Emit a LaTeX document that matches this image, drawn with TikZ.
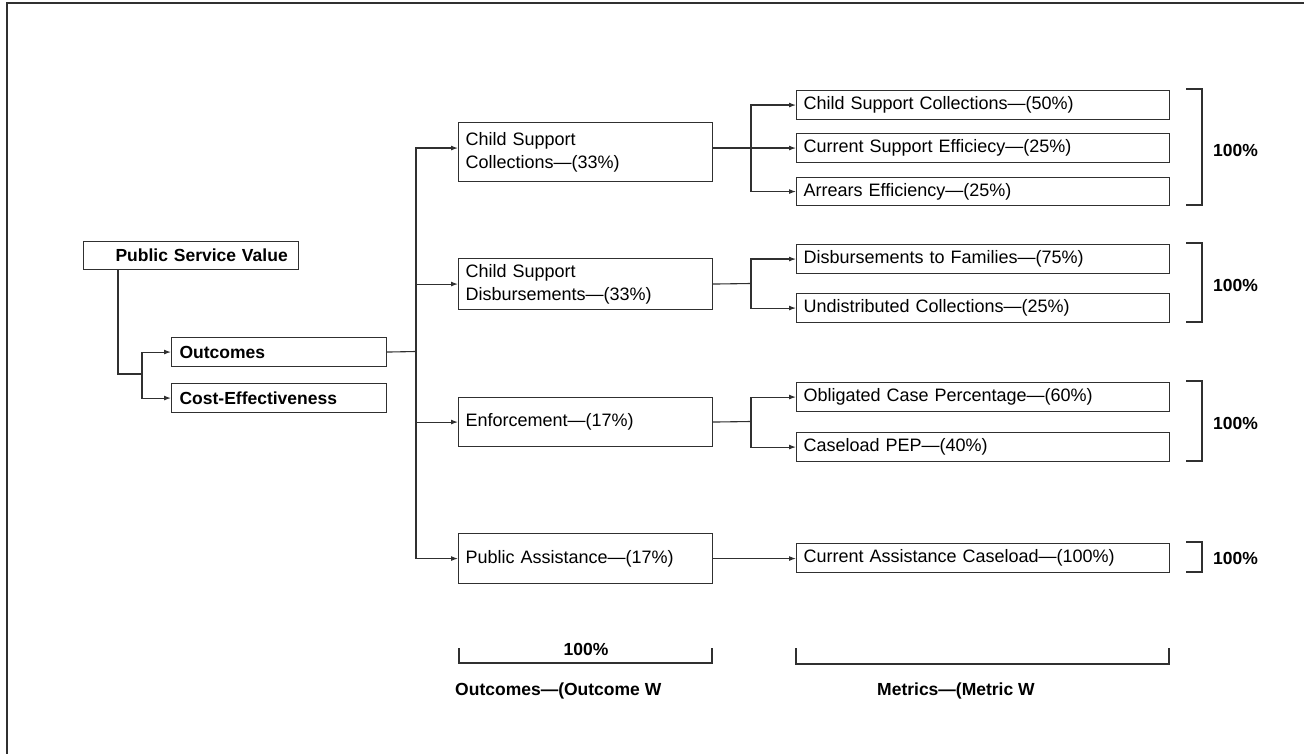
\documentclass[tikz,border=0pt]{standalone}
\usepackage{fontspec}
\setmainfont{Liberation Sans}
\usetikzlibrary{arrows.meta}
\definecolor{lc}{HTML}{303030}
\newcommand{\fsr}{\fontsize{18}{23}\selectfont}
\newcommand{\fsb}{\fontsize{17.5}{22}\selectfont\bfseries}
\tikzset{
  ln/.style={draw=lc, line width=1.1pt},
  ar/.style={ln, -{Latex[length=7pt,width=5pt]}},
  bx/.style={ln, anchor=north west, inner xsep=7pt, inner ysep=0pt, align=left, font=\fsr, text=black},
  lvl/.style={bx, text width=240pt},
  met/.style={bx, text width=359pt, minimum height=29pt},
  lbl/.style={font=\fsb, text=black, inner sep=0pt},
}
\begin{document}
\begin{tikzpicture}[x=1pt,y=-1pt]
\useasboundingbox (0,0) rectangle (1304,754);
\fill[white] (0,0) rectangle (1304,754);
\draw[lc, line width=1.6pt] (7,754) -- (7,3) -- (1304,3);

% left boxes
\node[bx, text width=201pt, minimum height=28pt, font=\fsb] (psv) at (83,241) {\hspace*{25pt}Public Service Value};
\node[bx, inner xsep=8pt, text width=199pt, minimum height=29pt, font=\fsb] (outc) at (171,337) {Outcomes};
\node[bx, inner xsep=8pt, text width=199pt, minimum height=29pt, font=\fsb] (cost) at (171,383) {Cost-Effectiveness};

% level 2
\node[lvl, minimum height=59pt] (csc) at (458,122) {Child Support\\Collections---(33\%)};
\node[lvl, minimum height=51pt] (csd) at (458,258) {Child Support\\Disbursements---(33\%)};
\node[lvl, minimum height=49pt] (enf) at (458,397) {Enforcement---(17\%)};
\node[lvl, minimum height=50pt] (pa) at (458,533) {Public Assistance---(17\%)};

% metrics
\node[met] (m1) at (796,90) {Child Support Collections---(50\%)};
\node[met] (m2) at (796,133) {Current Support Efficiecy---(25\%)};
\node[met, minimum height=28pt] (m3) at (796,177) {Arrears Efficiency---(25\%)};
\node[met] (m4) at (796,244) {Disbursements to Families---(75\%)};
\node[met] (m5) at (796,293) {Undistributed Collections---(25\%)};
\node[met] (m6) at (796,382) {Obligated Case Percentage---(60\%)};
\node[met] (m7) at (796,432) {Caseload PEP---(40\%)};
\node[met] (m8) at (796,543) {Current Assistance Caseload---(100\%)};

% junctions
\coordinate (jA) at (142,374);
\coordinate (jB) at (416,351.5);
\coordinate (jC) at (751,147.5);
\coordinate (jD) at (751,283.5);
\coordinate (jE) at (751,421.5);

% connectors
\draw[ln] (psv.south -| 118,0) |- (jA);
\draw[ar] (jA) |- (outc.west);
\draw[ar] (jA) |- (cost.west);
\draw[ln] (outc.east) -- (jB);
\draw[ar] (jB) |- ([yshift=4pt]csc.west);
\draw[ar] (jB) |- (csd.west);
\draw[ar] (jB) |- (enf.west);
\draw[ar] (jB) |- (pa.west);

\draw[ar] ([yshift=4pt]csc.east) -- (m2.west);
\draw[ar] (jC) |- (m1.west);
\draw[ar] (jC) |- (m3.west);

\draw[ln] (csd.east) -- (jD);
\draw[ar] (jD) |- (m4.west);
\draw[ar] (jD) |- (m5.west);

\draw[ln] (enf.east) -- (jE);
\draw[ar] (jE) |- (m6.west);
\draw[ar] (jE) |- (m7.west);

\draw[ar] (pa.east) -- (pa.east -| m8.west);

% right brackets
\draw[ln] (1186,89) -- (1202,89) -- (1202,205) -- (1186,205);
\node[lbl, anchor=west] (p1) at (1213,150) {100\%};
\draw[ln] (1186,243) -- (1202,243) -- (1202,322) -- (1186,322);
\node[lbl, anchor=west] (p2) at (1213,285) {100\%};
\draw[ln] (1186,381) -- (1202,381) -- (1202,461) -- (1186,461);
\node[lbl, anchor=west] (p3) at (1213,423) {100\%};
\draw[ln] (1186,542) -- (1202,542) -- (1202,572) -- (1186,572);
\node[lbl, anchor=west] (p4) at (1213,558) {100\%};

% bottom brackets
\draw[ln] (459,648) -- (459,663) -- (712,663) -- (712,648);
\node[lbl] (p5) at (586,649) {100\%};
\draw[ln] (796,648) -- (796,664) -- (1169,664) -- (1169,648);
\node[lbl, anchor=west] (ow) at (455,691) {Outcomes---(Outcome W};
\node[lbl, anchor=west] (mw) at (877,691) {Metrics---(Metric W};
\end{tikzpicture}
\end{document}
